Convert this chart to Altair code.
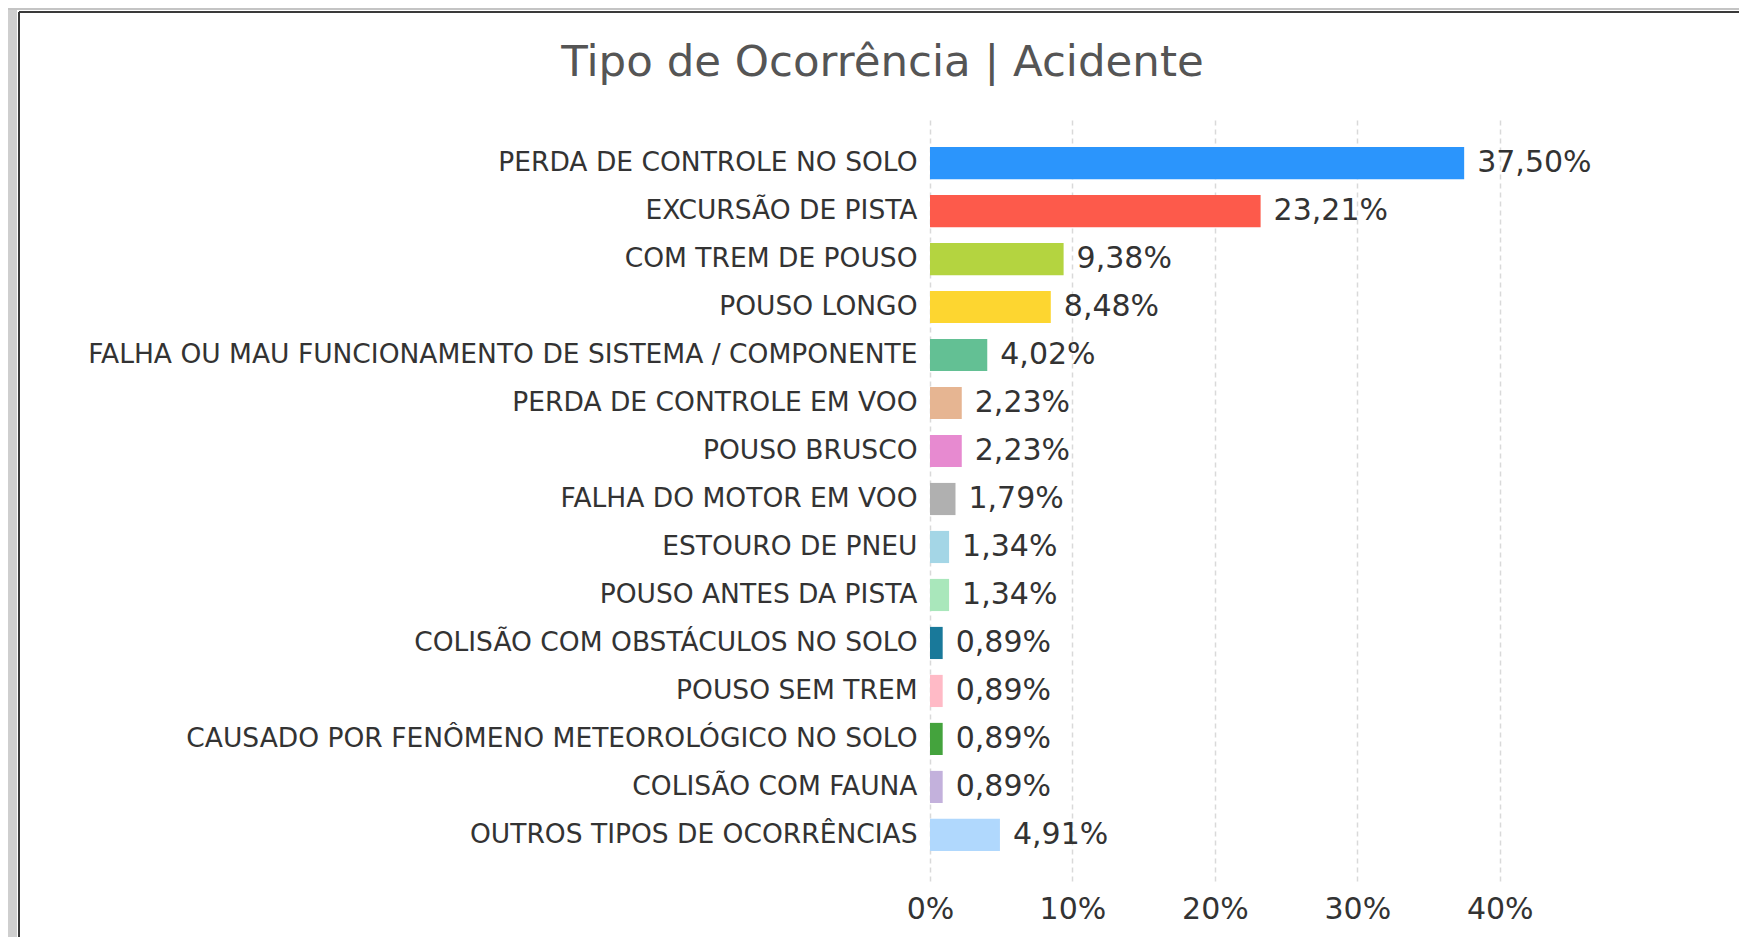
import altair as alt
import pandas as pd

categories = [
    "PERDA DE CONTROLE NO SOLO",
    "EXCURSÃO DE PISTA",
    "COM TREM DE POUSO",
    "POUSO LONGO",
    "FALHA OU MAU FUNCIONAMENTO DE SISTEMA / COMPONENTE",
    "PERDA DE CONTROLE EM VOO",
    "POUSO BRUSCO",
    "FALHA DO MOTOR EM VOO",
    "ESTOURO DE PNEU",
    "POUSO ANTES DA PISTA",
    "COLISÃO COM OBSTÁCULOS NO SOLO",
    "POUSO SEM TREM",
    "CAUSADO POR FENÔMENO METEOROLÓGICO NO SOLO",
    "COLISÃO COM FAUNA",
    "OUTROS TIPOS DE OCORRÊNCIAS",
]
values = [37.50, 23.21, 9.38, 8.48, 4.02, 2.23, 2.23, 1.79, 1.34, 1.34,
          0.89, 0.89, 0.89, 0.89, 4.91]
colors = ["#2b95fc", "#fd5a4b", "#b4d440", "#fdd630", "#63c094", "#e6b592",
          "#e78ad0", "#b0b0b0", "#a4d6e6", "#a9e7bb", "#19799a", "#ffbac6",
          "#44a33d", "#c3b1dc", "#b0d8fd"]
x_ticks = [0, 10, 20, 30, 40]

df = pd.DataFrame({
    "cat": categories,
    "val": values,
    "label": [f"{v:.2f}".replace(".", ",") + "%" for v in values],
})

FONT = "DejaVu Sans"

y_enc = alt.Y("cat:N", sort=categories, title=None,
              scale=alt.Scale(paddingInner=0.33, paddingOuter=0.625),
              axis=alt.Axis(ticks=False, domain=False, labelPadding=13,
                            labelFont=FONT, labelFontSize=26.5, labelColor="#333333",
                            labelLimit=2000, grid=False))
x_enc = alt.X("val:Q", title=None,
              scale=alt.Scale(domain=[0, 45], nice=False),
              axis=alt.Axis(values=x_ticks, labelExpr="datum.value + '%'",
                            ticks=False, domain=False, labelPadding=13,
                            labelFlush=False,
                            labelFont=FONT, labelFontSize=30, labelColor="#333333",
                            grid=True, gridColor="#d9d9d9", gridDash=[5, 4],
                            gridWidth=1.5))

base = alt.Chart(df)

bars = base.mark_bar().encode(
    x=x_enc,
    y=y_enc,
    color=alt.Color("cat:N", scale=alt.Scale(domain=categories, range=colors),
                    legend=None),
)

text = base.mark_text(align="left", baseline="middle", dx=13, font=FONT,
                      fontSize=30, color="#333333").encode(
    x="val:Q",
    y=alt.Y("cat:N", sort=categories),
    text="label:N",
)

one = alt.Chart(alt.Data(values=[{"k": 1}]))
band_left = one.mark_rect(color="#cfcfcf").encode(
    x=alt.value(-922), x2=alt.value(-913), y=alt.value(-109), y2=alt.value(820))
band_top = one.mark_rect(color="#c4c4c4").encode(
    x=alt.value(-922), x2=alt.value(820), y=alt.value(-109), y2=alt.value(-107))
line_left = one.mark_rule(color="#3a3a3a", strokeWidth=2).encode(
    x=alt.value(-911), y=alt.value(-105), y2=alt.value(820))
line_top = one.mark_rule(color="#3a3a3a", strokeWidth=2).encode(
    x=alt.value(-911), x2=alt.value(820), y=alt.value(-105))

chart = alt.layer(band_left, band_top, line_left, line_top, bars, text).properties(
    width=641,
    height=764,
    background="white",
    autosize=alt.AutoSizeParams(type="none"),
    padding={"left": 922, "top": 109, "right": 168, "bottom": 56},
    title=alt.TitleParams(
        "Tipo de Ocorrência | Acidente", font=FONT, fontSize=43.5,
        fontWeight="normal", color="#555555", anchor="middle", frame="group",
        dx=-368, offset=-77),
).configure_view(stroke=None, strokeWidth=0)

chart.save("out.html", embed_options={"renderer": "svg", "actions": False})
